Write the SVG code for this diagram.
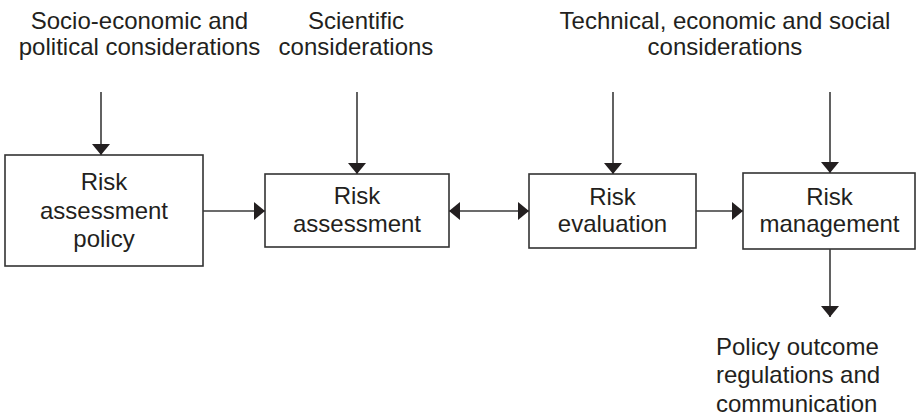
<svg xmlns="http://www.w3.org/2000/svg" width="917" height="416" viewBox="0 0 917 416">
  <defs>
    <marker id="head" markerUnits="userSpaceOnUse" markerWidth="11" markerHeight="18" refX="11" refY="9" orient="auto-start-reverse">
      <path d="M0,0 L11,9 L0,18 Z" fill="#231f20"/>
    </marker>
    <style>
      .box { fill: #ffffff; stroke: #333333; stroke-width: 1.6; }
      .lbl { font-family: "Liberation Sans", Arial, sans-serif; font-size: 24px; fill: #231f20; text-anchor: middle; }
      .out { text-anchor: start; }
      .conn { stroke: #3a3a3a; stroke-width: 1.6; fill: none; }
    </style>
  </defs>
  <rect width="917" height="416" fill="#ffffff"/>

  <!-- input labels -->
  <g id="input-socio">
    <text class="lbl" x="139.5" y="29">Socio-economic and</text>
    <text class="lbl" x="139.5" y="55">political considerations</text>
  </g>
  <g id="input-scientific">
    <text class="lbl" x="356" y="29">Scientific</text>
    <text class="lbl" x="356" y="55">considerations</text>
  </g>
  <g id="input-technical">
    <text class="lbl" x="725" y="29">Technical, economic and social</text>
    <text class="lbl" x="725" y="55">considerations</text>
  </g>

  <!-- process boxes -->
  <g id="risk-assessment-policy">
    <rect class="box" x="5" y="155" width="198" height="111"/>
    <text class="lbl" x="104" y="190">Risk</text>
    <text class="lbl" x="104" y="218.5">assessment</text>
    <text class="lbl" x="104" y="247">policy</text>
  </g>
  <g id="risk-assessment">
    <rect class="box" x="265" y="174" width="184" height="73"/>
    <text class="lbl" x="357" y="204">Risk</text>
    <text class="lbl" x="357" y="231.5">assessment</text>
  </g>
  <g id="risk-evaluation">
    <rect class="box" x="529" y="174" width="167" height="74"/>
    <text class="lbl" x="612.5" y="205">Risk</text>
    <text class="lbl" x="612.5" y="232">evaluation</text>
  </g>
  <g id="risk-management">
    <rect class="box" x="743" y="173" width="172" height="76"/>
    <text class="lbl" x="829.5" y="205">Risk</text>
    <text class="lbl" x="829.5" y="232">management</text>
  </g>

  <!-- output label -->
  <g id="policy-outcome">
    <text class="lbl out" x="716" y="355">Policy outcome</text>
    <text class="lbl out" x="716" y="383">regulations and</text>
    <text class="lbl out" x="716" y="411.5">communication</text>
  </g>

  <!-- connectors -->
  <g id="connectors">
    <line class="conn" x1="101" y1="92" x2="101" y2="155" marker-end="url(#head)"/>
    <line class="conn" x1="357" y1="92" x2="357" y2="174" marker-end="url(#head)"/>
    <line class="conn" x1="613" y1="92" x2="613" y2="174" marker-end="url(#head)"/>
    <line class="conn" x1="830" y1="92" x2="830" y2="173" marker-end="url(#head)"/>
    <line class="conn" x1="203" y1="211" x2="265" y2="211" marker-end="url(#head)"/>
    <line class="conn" x1="449" y1="211" x2="529" y2="211" marker-start="url(#head)" marker-end="url(#head)"/>
    <line class="conn" x1="696" y1="211" x2="743" y2="211" marker-end="url(#head)"/>
    <line class="conn" x1="830" y1="249" x2="830" y2="317" marker-end="url(#head)"/>
  </g>
</svg>
